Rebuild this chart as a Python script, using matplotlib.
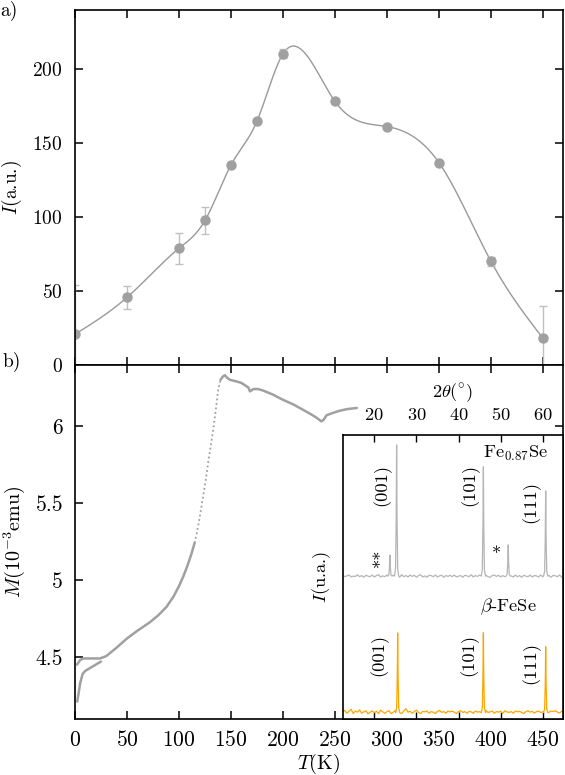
import numpy as np
import matplotlib
matplotlib.use('Agg')
import matplotlib.pyplot as plt

plt.rcParams['font.family'] = 'serif'
plt.rcParams['font.serif'] = ['cmr10']
plt.rcParams['mathtext.fontset'] = 'cm'
plt.rcParams['axes.unicode_minus'] = False
plt.rcParams['axes.formatter.use_mathtext'] = True

# a) intensidade vs temperatura
T_int = [0, 50, 100, 125, 150, 175, 200, 250, 300, 350, 400, 450]
I_int = [20.8, 45.7, 78.9, 97.7, 135.2, 164.9, 210.3, 178.2, 161.2, 136.8, 70.1, 18.1]
I_err = [33, 8, 10.5, 9, 0, 0, 3, 0, 0, 0, 3, 21.5]

# b) magnetizacao vs temperatura (ramo superior e ramo inferior)
T_up = [2, 5, 8, 15, 24, 30, 40, 50, 60, 72, 80, 88, 95, 100, 104, 108, 112, 115,
        117, 120, 123.4, 126, 128.2, 131, 133, 135.5, 137.8, 140, 142, 144.2, 146,
        149, 155, 160, 166.7, 168.3, 171.5, 176, 181, 190, 200, 210, 218, 226, 232,
        237, 239, 242, 248, 255, 262, 271]
M_up = [4.45, 4.48, 4.49, 4.49, 4.49, 4.505, 4.56, 4.62, 4.67, 4.725, 4.77, 4.825,
        4.895, 4.96, 5.02, 5.09, 5.17, 5.24, 5.30, 5.41, 5.55, 5.66, 5.77, 5.89, 5.98,
        6.11, 6.24, 6.30, 6.32, 6.33, 6.315, 6.30, 6.29, 6.28, 6.25, 6.225, 6.24,
        6.24, 6.23, 6.205, 6.17, 6.14, 6.11, 6.08, 6.055, 6.03, 6.04, 6.07, 6.085,
        6.10, 6.11, 6.117]
T_low = [2.2, 5, 7.4, 10, 15, 20, 25]
M_low = [4.21, 4.33, 4.39, 4.41, 4.43, 4.45, 4.47]

# inset: difratogramas (ruido de fundo em milesimos)
tth_base = np.arange(12.5, 64.8, 0.5)
noise_fe = [3, -2, 1, 4, -3, 0, -1, 5, -2, 2, -4, 3, 0, -2, 4, -3, 2, 5, -3, 1,
            -2, 4, -4, 2, 3, -3, 1, -4, 5, -2, 2, -3, 4, -1, 3, -4, 2, 5, -3, 1,
            -4, 3, 2, -2, 4, -3, 1, 3, -4, 2, -1, 3, -2, 4, -3, 0, 2, -4, 3, 1,
            -2, 5, -3, 2, -1, 4, -3, 1, 3, -2, -4, 2, 4, -1, 3, -3, 2, -2, 5, -1,
            1, -3, 4, -2, 2, -4, 3, 0, -2, 4, -3, 2, 1, -3, 4, -2, 3, -1, 2, -4,
            3, 1, -2, 4, -3]
noise_b = [4, 8, -2, 5, 12, -3, 6, 2, 10, -2, 3, 7, -4, 2, 6, 0, 5, -3, 9, 3,
           -2, 4, 7, -3, 2, 8, 0, 4, -3, 6, 14, 2, 5, -2, 4, 9, 1, -3, 5, 3,
           6, -2, 4, 2, -3, 5, 8, 1, 4, -2, 6, 3, 5, 2, -3, 4, 7, 1, 4, -2,
           5, 3, -2, 6, 2, 4, -3, 5, 8, 1, 3, 6, -2, 4, 2, 5, -3, 7, 3, 1,
           4, -2, 6, 3, 5, 1, -3, 4, 7, 2, 5, -2, 4, 6, 1, 3, -3, 5, 2, 6,
           4, 7, 2, -1, 5]
base_fe = 0.503
pk_fe_pos = [23.7, 25.3, 45.9, 51.8, 60.7]
pk_fe_h = [0.577, 0.965, 0.888, 0.613, 0.803]
base_b = 0.022
pk_b_pos = [25.55, 45.9, 60.7]
pk_b_h = [0.303, 0.304, 0.255]
pk_dx = [-0.5, -0.25, -0.1, 0.0, 0.1, 0.25, 0.5]
pk_frac = [0.0, 0.06, 0.45, 1.0, 0.45, 0.06, 0.0]


def spline_natural(x, y, xs):
    x = np.asarray(x, float)
    y = np.asarray(y, float)
    n = len(x)
    h = np.diff(x)
    A = np.zeros((n, n))
    r = np.zeros(n)
    A[0, 0] = A[-1, -1] = 1
    for i in range(1, n - 1):
        A[i, i - 1] = h[i - 1]
        A[i, i] = 2 * (h[i - 1] + h[i])
        A[i, i + 1] = h[i]
        r[i] = 6 * ((y[i + 1] - y[i]) / h[i] - (y[i] - y[i - 1]) / h[i - 1])
    m = np.linalg.solve(A, r)
    k = np.clip(np.searchsorted(x, xs) - 1, 0, n - 2)
    t0 = x[k + 1] - xs
    t1 = xs - x[k]
    hk = h[k]
    return (m[k] * t0 ** 3 / (6 * hk) + m[k + 1] * t1 ** 3 / (6 * hk)
            + (y[k] / hk - m[k] * hk / 6) * t0 + (y[k + 1] / hk - m[k + 1] * hk / 6) * t1)


def pattern(base, noise, pos, hts):
    xs, ys = [], []
    for t, e in zip(tth_base, noise):
        if min(abs(t - p) for p in pos) > 0.55:
            xs.append(t)
            ys.append(base + e / 1000.0)
    for p, hgt in zip(pos, hts):
        for dx, f in zip(pk_dx, pk_frac):
            xs.append(p + dx)
            ys.append(base + f * (hgt - base))
    order = np.argsort(xs)
    return np.array(xs)[order], np.array(ys)[order]


fig = plt.figure(figsize=(5.65, 7.75), dpi=100)
ax1 = fig.add_axes([0.1327, 0.529, 0.8633, 0.4581])
ax2 = fig.add_axes([0.1327, 0.0723, 0.8633, 0.4567])

for ax in (ax1, ax2):
    ax.tick_params(direction='in', top=True, right=True, length=6, width=1.1)
    for s in ax.spines.values():
        s.set_linewidth(1.2)
    ax.set_xlim(0, 469)
    ax.set_xticks(range(0, 451, 50))

# painel a)
xs = np.linspace(0, 450, 400)
ax1.plot(xs, spline_natural(T_int, I_int, xs), color='#999999', lw=1.0)
ax1.errorbar(T_int, I_int, yerr=I_err, fmt='o', color='#a0a0a0', ms=6.5,
             ecolor='#c0c0c0', elinewidth=1.0, capsize=3, capthick=1.0)
ax1.set_ylim(0, 240)
ax1.set_yticks([0, 50, 100, 150, 200])
ax1.tick_params(axis='y', labelsize=14, pad=9)
ax1.tick_params(labelbottom=False)
ax1.set_ylabel('$I$(a.u.)', fontsize=14, labelpad=6)

# painel b)
T_up_a = np.array(T_up)
M_up_a = np.array(M_up)
m1 = T_up_a <= 115
m2 = (T_up_a >= 115) & (T_up_a <= 140)
m3 = T_up_a >= 140
kw = dict(color='#a0a0a0', lw=1.8, solid_joinstyle='round', solid_capstyle='round')
ax2.plot(T_up_a[m1], M_up_a[m1], **kw)
ax2.plot(T_up_a[m2], M_up_a[m2], color='#a0a0a0', lw=1.3, ls=(0, (1, 1.5)))
ax2.plot(T_up_a[m3], M_up_a[m3], **kw)
ax2.plot(T_low, M_low, **kw)
ax2.set_ylim(4.097, 6.396)
ax2.set_yticks([4.5, 5, 5.5, 6])
ax2.set_yticklabels(['4.5', '5', '5.5', '6'])
ax2.tick_params(axis='y', labelsize=15.5, pad=8.5)
ax2.tick_params(axis='x', labelsize=15.5, pad=8)
ax2.set_xlabel('$T$(K)', fontsize=14.5, labelpad=1)
ax2.set_ylabel('$M$(10$^{-3}$emu)', fontsize=14.5, labelpad=6)

fig.text(0.0, 0.986, 'a)', fontsize=14, va='center', ha='left')
fig.text(0.005, 0.533, 'b)', fontsize=14, va='center', ha='left')

# inset
fsi = 13.3
axi = fig.add_axes([0.6066, 0.0723, 0.3894, 0.3664])
axi.set_facecolor('white')
x_fe, y_fe = pattern(base_fe, noise_fe, pk_fe_pos, pk_fe_h)
x_b, y_b = pattern(base_b, noise_b, pk_b_pos, pk_b_h)
axi.plot(x_fe, y_fe, color='#b5b5b5', lw=0.9)
axi.plot(x_b, y_b, color='#ffa500', lw=0.9)
axi.set_xlim(12.5, 64.75)
axi.set_ylim(0, 1)
axi.set_xticks([20, 30, 40, 50, 60])
axi.set_yticks([])
axi.xaxis.set_label_position('top')
axi.tick_params(direction='in', top=True, bottom=True, labeltop=True, labelbottom=False,
                length=5, width=1.0, labelsize=fsi, pad=9)
for s in axi.spines.values():
    s.set_linewidth(1.2)
axi.set_xlabel(r'$2\theta(^{\circ})$', fontsize=fsi, labelpad=6)
axi.set_ylabel('$I$(u.a.)', fontsize=fsi, labelpad=7)

axi.text(53.5, 0.935, 'Fe$_{0.87}$Se', fontsize=fsi, ha='center', va='center')
axi.text(21.8, 0.823, '(001)', fontsize=fsi, rotation=90, ha='center', va='center')
axi.text(42.7, 0.823, '(101)', fontsize=fsi, rotation=90, ha='center', va='center')
axi.text(57.1, 0.765, '(111)', fontsize=fsi, rotation=90, ha='center', va='center')
axi.text(21.6, 0.566, '**', fontsize=fsi, rotation=90, ha='center', va='center')
axi.text(49.0, 0.580, '*', fontsize=fsi, ha='center', va='center')
axi.text(51.8, 0.396, r'$\beta$-FeSe', fontsize=fsi, ha='center', va='center')
axi.text(21.2, 0.225, '(001)', fontsize=fsi, rotation=90, ha='center', va='center')
axi.text(42.5, 0.225, '(101)', fontsize=fsi, rotation=90, ha='center', va='center')
axi.text(57.1, 0.197, '(111)', fontsize=fsi, rotation=90, ha='center', va='center')

fig.savefig('out.png', dpi=100)
